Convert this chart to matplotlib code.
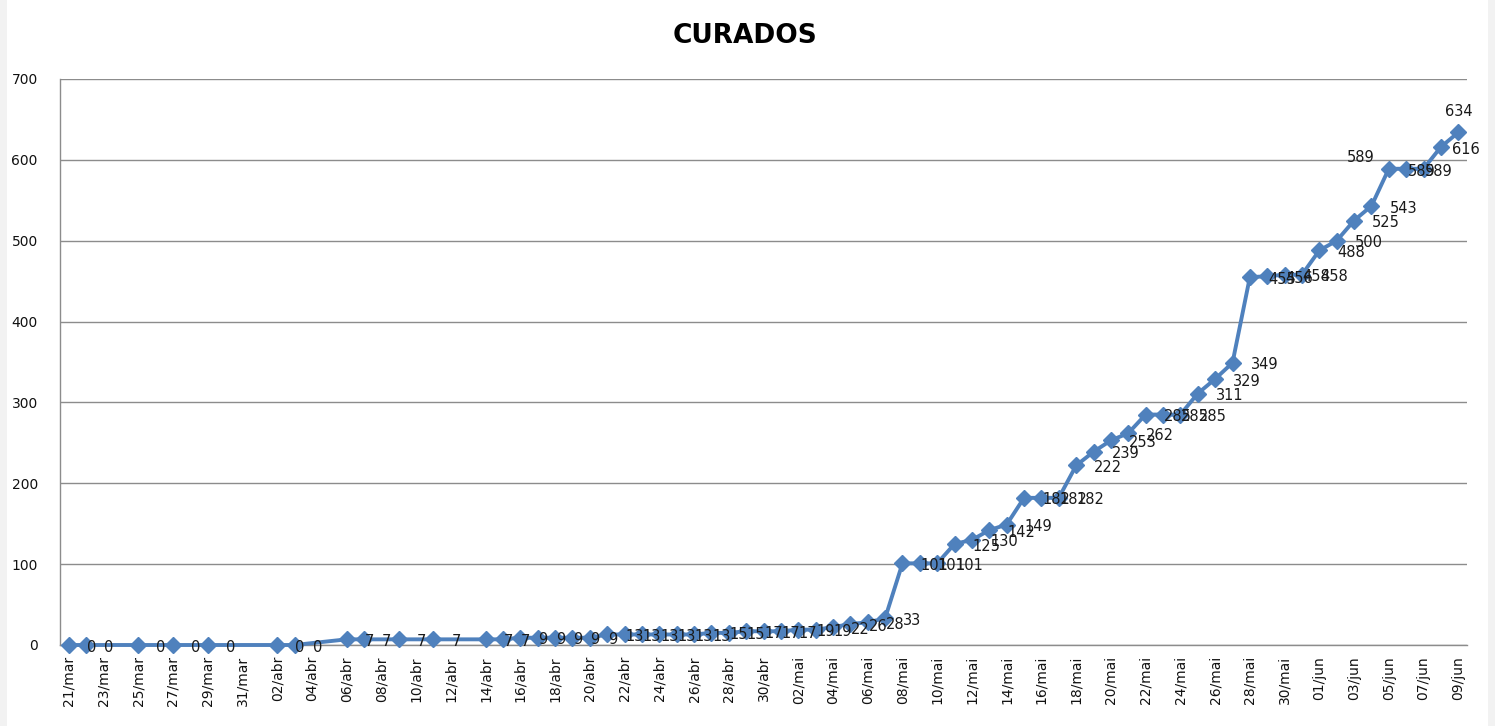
import numpy as np
import pandas as pd
import matplotlib
matplotlib.use("Agg")
import matplotlib.pyplot as plt
from matplotlib.patches import Rectangle

# data (dates in 2020)
dates = ['2020-03-21', '2020-03-22', '2020-03-25', '2020-03-27', '2020-03-29',
         '2020-04-02', '2020-04-03', '2020-04-06', '2020-04-07', '2020-04-09',
         '2020-04-11'] + [d.strftime('%Y-%m-%d') for d in pd.date_range('2020-04-14', '2020-06-09')]
curados = [0, 0, 0, 0, 0,
           0, 0, 7, 7, 7,
           7,
           7, 7, 9, 9, 9, 9, 9,                 # 14/abr - 20/abr
           13, 13, 13, 13, 13, 13,              # 21/abr - 26/abr
           15, 15, 17, 17, 17, 19, 19,          # 27/abr - 03/mai
           22, 26, 28, 33,                      # 04/mai - 07/mai
           101, 101, 101, 125, 130, 142, 149,   # 08/mai - 14/mai
           182, 182, 182, 222, 239, 253, 262,   # 15/mai - 21/mai
           285, 285, 285, 311, 329, 349,        # 22/mai - 27/mai
           455, 456, 458, 458,                  # 28/mai - 31/mai
           488, 500, 525, 543, 589, 589, 589, 616, 634]  # 01/jun - 09/jun
meses = {3: 'mar', 4: 'abr', 5: 'mai', 6: 'jun'}
title = 'CURADOS'

dates = pd.to_datetime(dates)
start = pd.Timestamp('2020-03-21')
x = np.array([(d - start).days for d in dates])
y = np.array(curados)

tick_dates = pd.date_range('2020-03-21', '2020-06-09', freq='2D')
tick_pos = [(d - start).days for d in tick_dates]
tick_lab = ['%02d/%s' % (d.day, meses[d.month]) for d in tick_dates]

W, H = 1495, 726
fig = plt.figure(figsize=(W / 100, H / 100), dpi=100)
fig.patch.set_facecolor('#f2f2f2')
fig.patches.append(Rectangle((7 / W, 0), (1488 - 7) / W, 1, transform=fig.transFigure,
                             facecolor='white', edgecolor='none', zorder=-5))

ax = fig.add_axes([60 / W, 1 - 645 / H, (1467 - 60) / W, (645 - 79) / H])
ax.set_zorder(2)
ax.set_facecolor('white')
blue = '#4f81bd'
ax.plot(x, y, color=blue, lw=2.8, marker='D', ms=8.5, zorder=3, clip_on=False)

# data labels, mostly to the right of the point; Excel nudged the last few
n = len(y)
special = {n - 5: ((-20, 8), 'center'),   # 589 on 05/jun
           n - 4: ((1, -2), 'left'),       # 589 on 06/jun
           n - 3: ((1, -2), 'left'),       # 589 on 07/jun
           n - 2: ((8, -1.5), 'left'),     # 616
           n - 1: ((0, 15), 'center')}     # 634
for i, (xi, yi) in enumerate(zip(x, y)):
    off, ha = special.get(i, ((13, -1.5), 'left'))
    ax.annotate(str(yi), (xi, yi), xytext=off, textcoords='offset points',
                ha=ha, va='center', fontsize=10.5, color='#1a1a1a', zorder=4)

ax.set_xlim(-0.5, 80.5)
ax.set_ylim(0, 700)
ax.set_yticks(range(0, 701, 100))
ax.set_xticks(tick_pos)
ax.set_xticklabels(tick_lab, rotation=90, fontsize=10, color='#111111')
ax.tick_params(axis='y', labelsize=10, colors='#111111', length=0, pad=16)
ax.tick_params(axis='x', length=0, pad=8)
ax.grid(axis='y', color='#8c8c8c', lw=1)
ax.set_axisbelow(True)
for s in ['top', 'right']:
    ax.spines[s].set_visible(False)
for s in ['left', 'bottom']:
    ax.spines[s].set_color('#8c8c8c')
    ax.spines[s].set_linewidth(1)

fig.text(745 / W, 1 - 36 / H, title, ha='center', va='center', fontsize=19,
         fontweight='bold', color='#000000')

fig.savefig('out.png', dpi=100, facecolor=fig.get_facecolor())
